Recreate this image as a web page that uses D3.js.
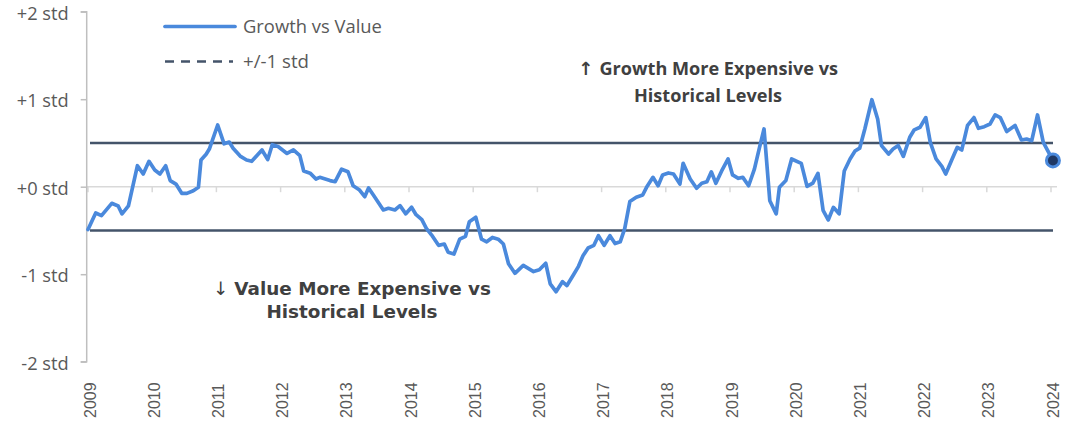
<!DOCTYPE html>
<html><head><meta charset="utf-8">
<script src="https://cdn.jsdelivr.net/npm/d3@7"></script>
<style>
html,body{margin:0;padding:0;background:#fff;}
svg{display:block;}
</style></head>
<body>
<svg id="chart" width="1081" height="423"></svg>
<script>
// ---- data ----
const dates = [2009.00,2009.12,2009.21,2009.37,2009.47,2009.53,2009.63,2009.77,2009.86,2009.95,
2010.04,2010.12,2010.21,2010.28,2010.37,2010.46,2010.54,2010.64,2010.72,2010.76,2010.84,2010.89,
2011.02,2011.12,2011.20,2011.26,2011.37,2011.47,2011.55,2011.71,2011.80,2011.87,2011.96,
2012.10,2012.20,2012.30,2012.36,2012.46,2012.55,2012.61,2012.77,2012.85,2012.95,
2013.05,2013.13,2013.23,2013.31,2013.37,2013.45,2013.60,2013.68,2013.78,2013.86,2013.95,
2014.04,2014.11,2014.20,2014.27,2014.35,2014.46,2014.55,2014.61,2014.70,2014.79,2014.88,2014.94,
2015.04,2015.13,2015.21,2015.30,2015.39,2015.47,2015.55,2015.65,2015.78,2015.94,
2016.03,2016.13,2016.20,2016.29,2016.39,2016.46,2016.56,2016.64,2016.71,2016.79,2016.88,2016.95,
2017.04,2017.13,2017.21,2017.29,2017.36,2017.44,2017.54,2017.64,2017.70,2017.80,2017.88,2017.95,
2018.04,2018.12,2018.22,2018.27,2018.38,2018.48,2018.56,2018.64,2018.71,2018.78,2018.87,2018.97,
2019.04,2019.13,2019.20,2019.29,2019.38,2019.46,2019.53,2019.62,2019.72,2019.77,2019.87,2019.96,
2020.11,2020.20,2020.29,2020.37,2020.45,2020.53,2020.61,2020.70,2020.78,2020.87,2020.95,
2021.02,2021.10,2021.21,2021.30,2021.36,2021.47,2021.54,2021.62,2021.70,2021.80,2021.87,2021.96,
2022.05,2022.12,2022.21,2022.30,2022.36,2022.45,2022.54,2022.61,2022.70,2022.80,2022.87,2022.96,
2023.05,2023.13,2023.21,2023.31,2023.44,2023.54,2023.62,2023.70,2023.79,2023.88,2024.03];
const growthVsValue = [-0.49,-0.30,-0.33,-0.19,-0.22,-0.31,-0.22,0.24,0.145,0.29,
0.19,0.145,0.24,0.07,0.03,-0.076,-0.076,-0.046,-0.007,0.305,0.37,0.43,
0.705,0.49,0.51,0.44,0.35,0.305,0.29,0.42,0.31,0.48,0.46,
0.38,0.42,0.355,0.18,0.155,0.088,0.107,0.07,0.057,0.20,
0.17,0.011,-0.038,-0.114,-0.015,-0.10,-0.266,-0.247,-0.266,-0.217,-0.31,
-0.235,-0.32,-0.377,-0.476,-0.55,-0.67,-0.655,-0.75,-0.77,-0.60,-0.567,-0.40,
-0.35,-0.60,-0.63,-0.58,-0.60,-0.655,-0.88,-0.99,-0.90,-0.97,
-0.95,-0.875,-1.11,-1.20,-1.085,-1.13,-1.01,-0.91,-0.79,-0.70,-0.67,-0.56,
-0.67,-0.56,-0.65,-0.63,-0.48,-0.17,-0.12,-0.095,-0.007,0.107,0.011,0.134,
0.157,0.145,0.03,0.267,0.088,-0.018,0.039,0.057,0.17,0.039,0.18,0.317,
0.134,0.096,0.107,0.011,0.20,0.45,0.66,-0.16,-0.31,-0.007,0.07,0.317,
0.267,0.004,0.042,0.153,-0.27,-0.38,-0.236,-0.31,0.18,0.317,0.41,
0.44,0.66,0.994,0.774,0.47,0.374,0.43,0.47,0.347,0.565,0.65,0.68,
0.79,0.507,0.317,0.233,0.145,0.30,0.45,0.42,0.70,0.79,0.667,0.686,
0.717,0.82,0.79,0.63,0.70,0.534,0.545,0.526,0.82,0.507,0.30];
const bandLevels = [0.5, -0.5];
const yTicks = [2, 1, 0, -1, -2];
const yTickLabels = ["+2 std", "+1 std", "+0 std", "-1 std", "-2 std"];
const xTicks = d3.range(2009, 2025);
const legendLabels = ["Growth vs Value", "+/-1 std"];
const noteUp = ["Growth More Expensive vs", "Historical Levels"];
const noteDown = ["Value More Expensive vs", "Historical Levels"];

// ---- layout ----
const svg = d3.select("#chart");
const x = d3.scaleLinear().domain([2009, 2024]).range([88, 1051]);
const y = d3.scaleLinear().domain([-2, 2]).range([361.7, 11.7]);
const blue = "#4a89dc", navy = "#44546a", txt = "#595959";
const sans = "'Open Sans', 'Noto Sans', sans-serif";

// zero axis with year ticks
svg.append("line").attr("x1", 87).attr("x2", 1057).attr("y1", y(0)).attr("y2", y(0))
  .attr("stroke", "#d9d9d9").attr("stroke-width", 1.5);
svg.append("g").selectAll("line").data(xTicks).join("line")
  .attr("x1", d => x(d)).attr("x2", d => x(d))
  .attr("y1", y(0)).attr("y2", y(0) + 5.5)
  .attr("stroke", "#d9d9d9").attr("stroke-width", 1.5);

// y axis
const yAxis = d3.axisLeft(y).tickValues(yTicks).tickSize(6)
  .tickFormat((d, i) => yTickLabels[i]);
const gy = svg.append("g").attr("transform", "translate(86.7,0)").call(yAxis);
gy.attr("font-size", null).attr("font-family", null);
gy.select(".domain").attr("stroke", "#bfbfbf").attr("stroke-width", 1.5)
  .attr("d", `M-6,${y(2)}H0V${y(-2)}H-6`);
gy.selectAll(".tick line").attr("stroke", "#bfbfbf").attr("stroke-width", 1.5);
const yText = gy.selectAll(".tick text").attr("x", -18).attr("dy", "0.42em").attr("fill", txt)
  .style("font-family", sans).style("font-size", "18px");
const wRef = yText.filter((d, i) => i === 0).node().getComputedTextLength();
yText.style("font-size", (18 * 52 / wRef).toFixed(2) + "px");

// x labels (rotated)
svg.append("g").selectAll("text").data(xTicks).join("text")
  .attr("transform", d => `translate(${x(d) + 2},418) rotate(-90)`)
  .attr("dy", "0.35em").attr("text-anchor", "start")
  .attr("fill", txt).style("font-family", "'Liberation Sans', Arial, sans-serif")
  .style("font-size", "16px").text(d => d);

// band lines
svg.append("g").selectAll("line").data(bandLevels).join("line")
  .attr("x1", 90).attr("x2", 1053).attr("y1", d => y(d)).attr("y2", d => y(d))
  .attr("stroke", navy).attr("stroke-width", 2.5);

// series line
const pts = dates.map((d, i) => [d, growthVsValue[i]]);
const line = d3.line().x(d => x(d[0])).y(d => y(d[1]));
svg.append("path").datum(pts).attr("d", line)
  .attr("fill", "none").attr("stroke", blue).attr("stroke-width", 3.7)
  .attr("stroke-linejoin", "round").attr("stroke-linecap", "round");

// last point marker
const last = pts[pts.length - 1];
svg.append("circle").attr("cx", x(last[0])).attr("cy", y(last[1])).attr("r", 6.5)
  .attr("fill", "#1f3864").attr("stroke", blue).attr("stroke-width", 3);

// legend
const lg = svg.append("g");
lg.append("line").attr("x1", 165).attr("x2", 235).attr("y1", 26.5).attr("y2", 26.5)
  .attr("stroke", blue).attr("stroke-width", 3.7).attr("stroke-linecap", "round");
lg.append("line").attr("x1", 165).attr("x2", 233).attr("y1", 61.5).attr("y2", 61.5)
  .attr("stroke", navy).attr("stroke-width", 2.5).attr("stroke-dasharray", "9,7");
const legW = [139, 66];
lg.selectAll("text").data(legendLabels).join("text")
  .attr("x", 243).attr("y", (d, i) => 26.5 + i * 35).attr("dy", "0.35em")
  .attr("fill", txt).style("font-family", sans)
  .style("font-size", "17px").text(d => d)
  .each(function(d, i) {
    const w = this.getComputedTextLength();
    d3.select(this).style("font-size", (17 * legW[i] / w).toFixed(2) + "px");
  });

// annotations, sized to fit the picture's text widths
function note(lines, arrow, arrowWeight, cx, y0, gap, targetW, family) {
  const g = svg.append("g");
  const t = g.selectAll("text").data(lines).join("text")
    .attr("x", cx).attr("y", (d, i) => y0 + i * gap).attr("text-anchor", "middle")
    .attr("fill", "#404040").style("font-weight", "bold")
    .style("font-family", family).style("font-size", "17px");
  t.each(function(d, i) {
    const s = d3.select(this);
    if (i === 0) {
      s.append("tspan").style("font-family", "'DejaVu Sans', sans-serif")
        .style("font-weight", arrowWeight).text(arrow + " ");
    }
    s.append("tspan").text(d);
  });
  const w = t.node().getComputedTextLength();
  t.style("font-size", (17 * targetW / w).toFixed(2) + "px");
}
note(noteUp, "\u2191", "bold", 708, 75, 27, 260, sans);
note(noteDown, "\u2193", "normal", 352, 295, 23, 278, "'DejaVu Sans', sans-serif");
</script>
</body></html>
